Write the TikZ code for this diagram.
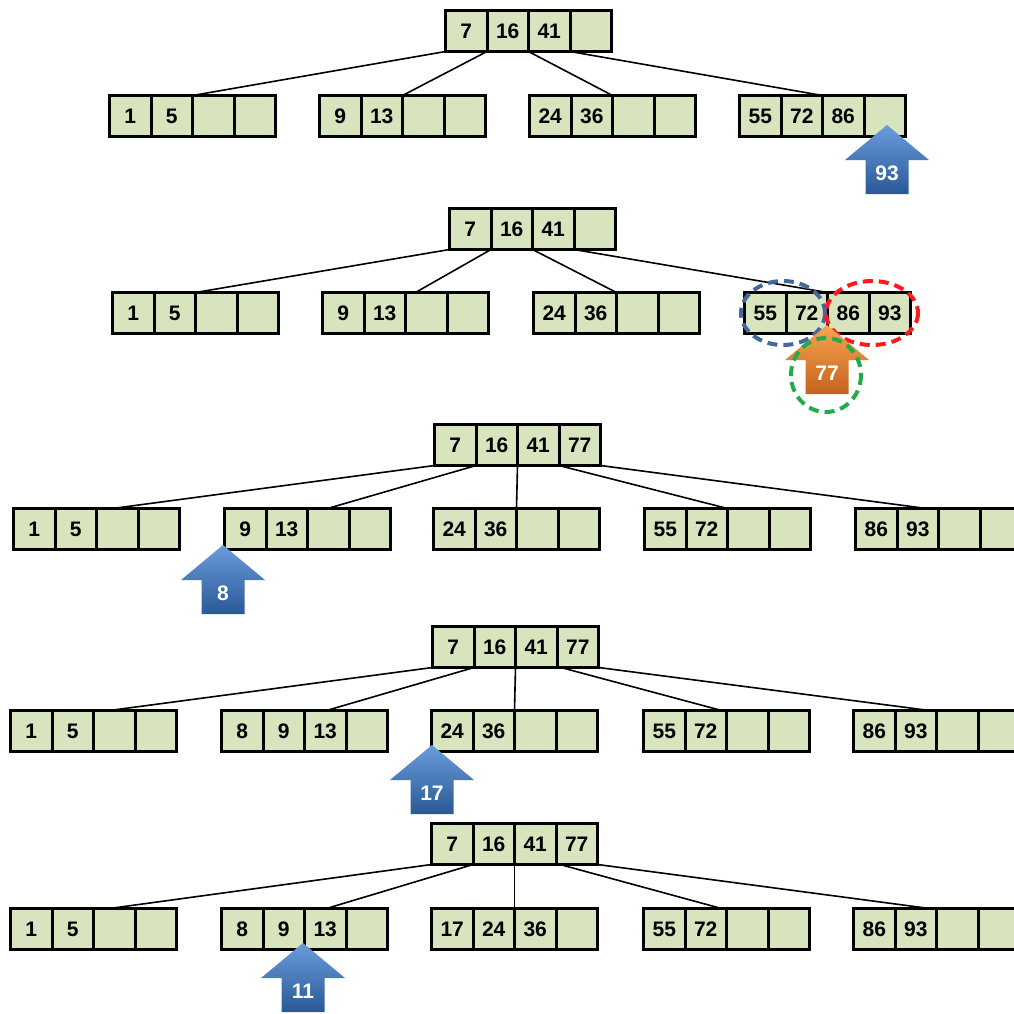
\documentclass[tikz,border=0pt]{standalone}
\usepackage{fontspec}
\setmainfont{Liberation Sans}
\usetikzlibrary{positioning}
\definecolor{cellgreen}{HTML}{D7E4BD}
\definecolor{arrowtop}{HTML}{6A9CDB}
\definecolor{arrowbot}{HTML}{2B5897}
\definecolor{orangetop}{HTML}{F7A54F}
\definecolor{orangebot}{HTML}{C4621D}
\definecolor{markblue}{HTML}{45679B}
\definecolor{markred}{HTML}{FF1A1A}
\definecolor{markgreen}{HTML}{22AA4C}
\tikzset{
cell/.style={draw, line width=1.5pt, fill=cellgreen, minimum width=20.75pt, minimum height=20.5pt,
  inner sep=0pt, outer sep=0pt, font=\fontsize{10.5}{12}\selectfont\bfseries},
link/.style={line width=0.8pt},
arrowlabel/.style={text=white, font=\fontsize{10.5}{12}\selectfont\bfseries},
ringmark/.style={dash pattern=on 5pt off 3pt, line width=2pt}}
% one B-tree node: name, top left corner, four keys
\newcommand{\bnode}[6]{%
  \node[cell, anchor=north west] (#1-1) at (#2) {#3};
  \node[cell, right=0pt of #1-1] (#1-2) {#4};
  \node[cell, right=0pt of #1-2] (#1-3) {#5};
  \node[cell, right=0pt of #1-3] (#1-4) {#6};}
% block arrow: name, tip, top colour, bottom colour, label
\newcommand{\blockarrow}[5]{%
  \coordinate (#1) at (#2);
  \shade[top color=#3, bottom color=#4] (#1) -- ++(42,35) -- ++(-20.5,0) -- ++(0,34)
    -- ++(-43,0) -- ++(0,-34) -- ++(-20.5,0) -- cycle;
  \node[arrowlabel] (#1-txt) at ([yshift=-24pt]#1) {#5};}

\begin{document}
\begin{tikzpicture}[x=0.5pt,y=-0.5pt]
    \useasboundingbox (0,0) rectangle (1014,1014);
    \clip (0,0) rectangle (1014,1014);
    % tree 1
    \bnode{t1r}{445.5,10.5}{7}{16}{41}{}
    \bnode{t1a}{109.5,95.5}{1}{5}{}{}
    \bnode{t1b}{319.5,95.5}{9}{13}{}{}
    \bnode{t1c}{529.5,95.5}{24}{36}{}{}
    \bnode{t1d}{739.5,95.5}{55}{72}{86}{}
    \draw[link] (t1r-1.south west) -- (t1a-3.north west);
    \draw[link] (t1r-2.south west) -- (t1b-3.north west);
    \draw[link] (t1r-3.south west) -- (t1c-3.north west);
    \draw[link] (t1r-4.south west) -- (t1d-3.north west);
    \blockarrow{in93}{887,125}{arrowtop}{arrowbot}{93}
    % tree 2
    \bnode{t2r}{449.5,208.5}{7}{16}{41}{}
    \bnode{t2a}{112.5,292.5}{1}{5}{}{}
    \bnode{t2b}{322.5,292.5}{9}{13}{}{}
    \bnode{t2c}{533.5,292.5}{24}{36}{}{}
    \bnode{t2d}{744.5,292.5}{55}{72}{86}{93}
    \draw[link] (t2r-1.south west) -- (t2a-3.north west);
    \draw[link] (t2r-2.south west) -- ([xshift=5pt]t2b-3.north west);
    \draw[link] (t2r-3.south west) -- (t2c-3.north west);
    \draw[link] (t2r-4.south west) -- (t2d-3.north west);
    \draw[ringmark, markblue] (783,313) ellipse [x radius=42, y radius=32];
    \draw[ringmark, markred] (872,313) ellipse [x radius=46, y radius=32];
    \blockarrow{up77}{827,325}{orangetop}{orangebot}{77}
    \draw[ringmark, markgreen] (826,375) ellipse [x radius=35, y radius=37];
    % tree 3
    \bnode{t3r}{434.5,424.5}{7}{16}{41}{77}
    \bnode{t3a}{13.5,508.5}{1}{5}{}{}
    \bnode{t3b}{224.5,508.5}{9}{13}{}{}
    \bnode{t3c}{433.5,508.5}{24}{36}{}{}
    \bnode{t3d}{644.5,508.5}{55}{72}{}{}
    \bnode{t3e}{855.5,508.5}{86}{93}{}{}
    \draw[link] (t3r-1.south west) -- ([xshift=8pt]t3a-3.north west);
    \draw[link] (t3r-2.south west) -- ([xshift=10pt]t3b-3.north west);
    \draw[link] (t3r-3.south west) -- (t3c-3.north west);
    \draw[link] (t3r-4.south west) -- (t3d-3.north west);
    \draw[link] (t3r-4.south east) -- ([xshift=-6pt]t3e-3.north west);
    \blockarrow{in8}{223,545}{arrowtop}{arrowbot}{8}
    % tree 4
    \bnode{t4r}{432.5,626.5}{7}{16}{41}{77}
    \bnode{t4a}{10.5,710.5}{1}{5}{}{}
    \bnode{t4b}{221.5,710.5}{8}{9}{13}{}
    \bnode{t4c}{431.5,710.5}{24}{36}{}{}
    \bnode{t4d}{643.5,710.5}{55}{72}{}{}
    \bnode{t4e}{853.5,710.5}{86}{93}{}{}
    \draw[link] (t4r-1.south west) -- ([xshift=8pt]t4a-3.north west);
    \draw[link] (t4r-2.south west) -- ([xshift=11pt]t4b-3.north west);
    \draw[link] (t4r-3.south west) -- (t4c-3.north west);
    \draw[link] ([xshift=2pt]t4r-4.south west) -- ([xshift=-2.5pt]t4d-3.north west);
    \draw[link] (t4r-4.south east) -- ([xshift=-3.5pt]t4e-3.north west);
    \blockarrow{in17}{432,745}{arrowtop}{arrowbot}{17}
    % tree 5
    \bnode{t5r}{431.5,823.5}{7}{16}{41}{77}
    \bnode{t5a}{10.5,908.5}{1}{5}{}{}
    \bnode{t5b}{221.5,908.5}{8}{9}{13}{}
    \bnode{t5c}{431.5,908.5}{17}{24}{36}{}
    \bnode{t5d}{643.5,908.5}{55}{72}{}{}
    \bnode{t5e}{853.5,908.5}{86}{93}{}{}
    \draw[link] (t5r-1.south west) -- ([xshift=8pt]t5a-3.north west);
    \draw[link] (t5r-2.south west) -- ([xshift=11pt]t5b-3.north west);
    \draw[link] (t5r-3.south west) -- (t5c-3.north west);
    \draw[link] ([xshift=2pt]t5r-4.south west) -- ([xshift=-2.5pt]t5d-3.north west);
    \draw[link] (t5r-4.south east) -- ([xshift=-3.5pt]t5e-3.north west);
    \blockarrow{in11}{303,943}{arrowtop}{arrowbot}{11}
\end{tikzpicture}
\end{document}
